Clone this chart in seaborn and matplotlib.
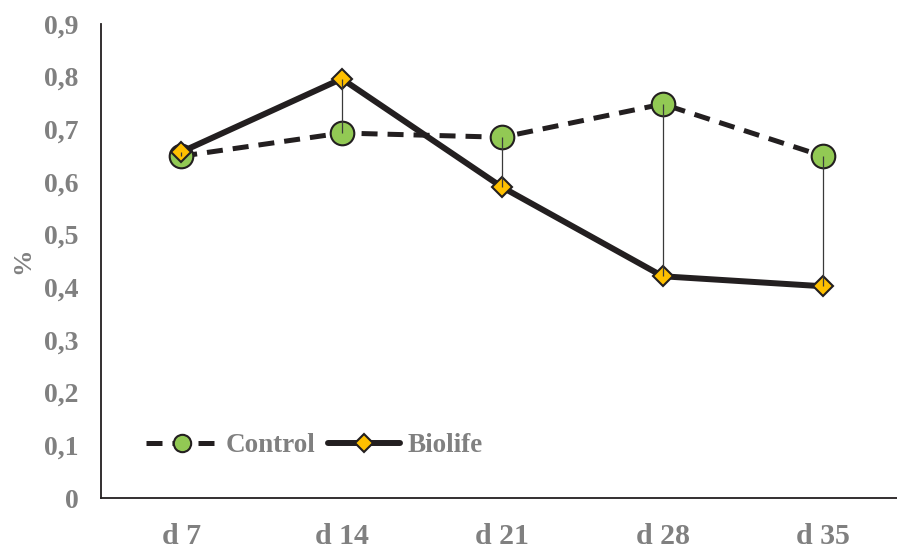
import pandas as pd
import numpy as np
import matplotlib.pyplot as plt
import seaborn as sns

# datos
dias = ['d 7', 'd 14', 'd 21', 'd 28', 'd 35']
control = [0.649, 0.693, 0.685, 0.748, 0.649]
biolife = [0.657, 0.796, 0.590, 0.421, 0.402]

sns.set_style('white')
plt.rcParams['font.family'] = ['Liberation Serif', 'DejaVu Serif']

gris = '#808080'
negro = '#231f20'
verde = '#92c954'
amarillo = '#ffc000'

fig = plt.figure(figsize=(8.97, 5.49), dpi=100)
ax = fig.add_axes([101 / 897, 51 / 549, 796 / 897, 474 / 549])

x = np.arange(len(dias))
df = pd.DataFrame({'x': x, 'Control': control, 'Biolife': biolife})

sns.lineplot(data=df, x='x', y='Control', ax=ax, color=negro, lw=3.6,
             linestyle=(0, (3.2, 2.0)), marker='o', markersize=17,
             markerfacecolor=verde, markeredgecolor=negro, markeredgewidth=1.5,
             label='Control', zorder=3)
sns.lineplot(data=df, x='x', y='Biolife', ax=ax, color=negro, lw=4.3,
             marker='D', markersize=10.5, markerfacecolor=amarillo,
             markeredgecolor=negro, markeredgewidth=1.5,
             label='Biolife', zorder=4)

# lineas entre series
ax.vlines(x, np.minimum(control, biolife), np.maximum(control, biolife),
          color='#3a3a3a', lw=0.9, zorder=5)

ax.set_xlim(-0.5, 4.46)
ax.set_ylim(0, 0.9)
ax.set_yticks(np.arange(0, 0.91, 0.1))
ax.set_yticklabels(['0'] + [f'0,{i}' for i in range(1, 10)])
ax.set_xticks(x)
ax.set_xticklabels(dias)
ax.set_xlabel('')
ax.set_ylabel('%', fontsize=19, fontweight='bold', color=gris, labelpad=7)

for s in ['top', 'right']:
    ax.spines[s].set_visible(False)
for s in ['left', 'bottom']:
    ax.spines[s].set_color(negro)
    ax.spines[s].set_linewidth(1.3)

ax.tick_params(axis='y', direction='out', length=6, width=1.3, color=negro,
               labelsize=20, labelcolor=gris, pad=10)
ax.tick_params(axis='x', direction='inout', length=10, width=1.3, color=negro,
               labelsize=21.5, labelcolor=gris, pad=13)
for t in ax.get_xticklabels() + ax.get_yticklabels():
    t.set_fontweight('bold')

leg = ax.legend(loc='center left', bbox_to_anchor=(0.026, 0.11), ncol=2,
                frameon=False, handlelength=2.65, handletextpad=0.3,
                columnspacing=0.45, prop={'size': 19.5, 'weight': 'bold'})
for t in leg.get_texts():
    t.set_color(gris)
h_control, h_biolife = leg.legend_handles
h_control.set_markersize(12.5)
h_biolife.set_markersize(9)

fig.savefig('out.png', dpi=100)
